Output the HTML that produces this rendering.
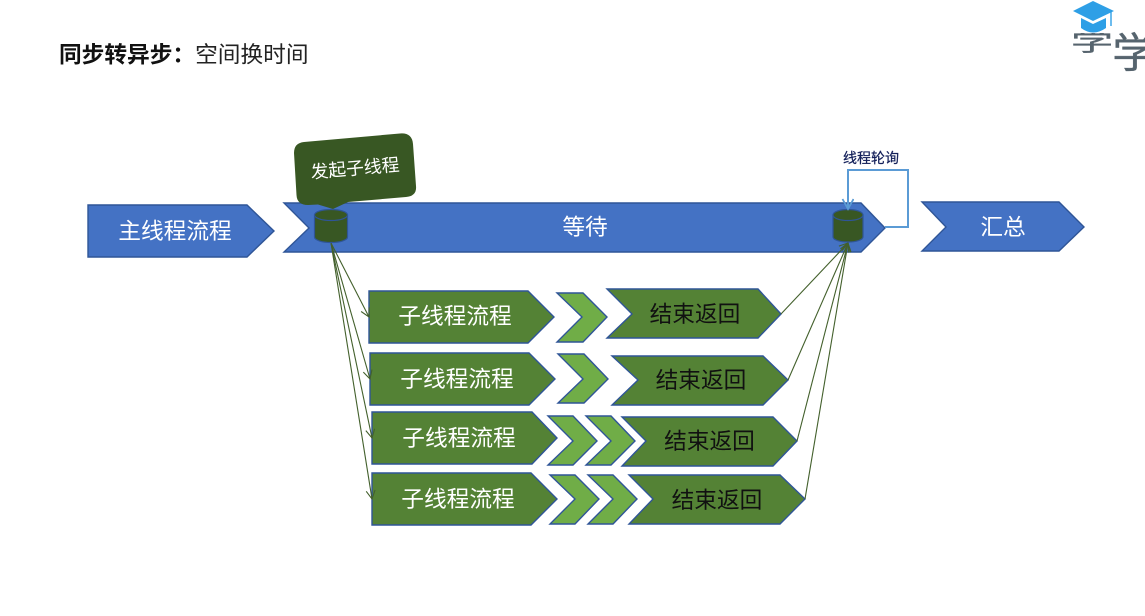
<!DOCTYPE html>
<html lang="zh-CN">
<head>
<meta charset="utf-8">
<title>同步转异步：空间换时间</title>
<style>
html,body{margin:0;padding:0;background:#fff;}
svg{display:block;}
text{font-family:"Liberation Sans","Noto Sans CJK SC",sans-serif;}
.box{stroke:#2f5597;stroke-width:1.4;stroke-linejoin:miter;}
.blue{fill:#4472c4;}
.green{fill:#548235;}
.light{fill:#70ad47;}
.wl{fill:#fff;font-size:22.7px;text-anchor:middle;dominant-baseline:central;}
.bk{fill:#111;font-size:22.7px;text-anchor:middle;dominant-baseline:central;}
.link{stroke:#43602c;stroke-width:1.1;fill:none;}
</style>
</head>
<body>
<svg width="1145" height="616" viewBox="0 0 1145 616" xmlns="http://www.w3.org/2000/svg">
<defs>
<marker id="openarrow" markerWidth="12" markerHeight="12" refX="9.500" refY="5" orient="auto" markerUnits="userSpaceOnUse"><path d="M1 0.500 L9.500 5 L1 9.500" fill="none" stroke="#43602c" stroke-width="1.1"/></marker>
<marker id="loophead" markerWidth="14" markerHeight="14" refX="11" refY="6" orient="auto" markerUnits="userSpaceOnUse"><path d="M1 0.500 L11 6 L1 11.500" fill="none" stroke="#5b9bd5" stroke-width="1.8"/></marker>
</defs>
<rect width="1145" height="616" fill="#fff"/>

<text x="59" y="54.500" font-size="22.700" dominant-baseline="central" fill="#111"><tspan font-weight="bold">同步转异步：</tspan><tspan fill="#222">空间换时间</tspan></text>

<g>
<text transform="translate(1071,50.600) scale(1,0.6)" font-size="42" fill="#56646e" stroke="#56646e" stroke-width="0.6">学</text>
<text transform="translate(1112,67.400) scale(1,0.9)" font-size="46" fill="#56646e" stroke="#56646e" stroke-width="0.4">学</text>
<rect x="1070" y="0" width="42" height="33" fill="#fff"/>
<path d="M1073 11 L1093 1 L1114 11 L1093 21 Z" fill="#2e9fe6"/>
<path d="M1081 18 L1093 24 L1106 18 V28 Q1093 37 1081 28 Z" fill="#2e9fe6"/>
<path d="M1111 12 V26" stroke="#2e9fe6" stroke-width="1.400"/>
</g>

<polygon class="box blue" points="88,205 247,205 274,231 247,257 88,257"/>
<text class="wl" x="175" y="231">主线程流程</text>

<polygon class="box blue" points="284,203 861,203 885,228 861,252 284,252 309,228"/>
<text class="wl" x="585" y="227">等待</text>

<polygon class="box blue" points="922,202 1059,202 1084,227 1059,251 922,251 946,227"/>
<text class="wl" x="1003" y="227">汇总</text>

<text x="871" y="158" font-size="14" fill="#14205a" stroke="#14205a" stroke-width="0.25" text-anchor="middle" dominant-baseline="central">线程轮询</text>

<g>
<polygon class="box green" points="369,291 528,291 554,317 528,343 369,343"/>
<text class="wl" x="455" y="316">子线程流程</text>
<polygon class="box light" points="557,293 583,293 607,317 583,342 557,342 582,317"/>
<polygon class="box green" points="607,289 758,289 781,314 758,338 607,338 632,314"/>
<text class="bk" x="695" y="314">结束返回</text>
</g>

<g>
<polygon class="box green" points="370,353 529,353 555,379 529,405 370,405"/>
<text class="wl" x="457" y="379">子线程流程</text>
<polygon class="box light" points="558,354 584,354 608,379 584,403 558,403 583,379"/>
<polygon class="box green" points="612,356 763,356 788,380 763,405 612,405 638,380"/>
<text class="bk" x="701" y="380">结束返回</text>
</g>

<g>
<polygon class="box green" points="372,412 532,412 557,438 532,464 372,464"/>
<text class="wl" x="459" y="438">子线程流程</text>
<polygon class="box light" points="548,416 573,416 597,441 573,465 548,465 573,441"/>
<polygon class="box light" points="586,416 611,416 635,441 611,465 586,465 611,441"/>
<polygon class="box green" points="622,417 773,417 797,441 773,466 622,466 646,441"/>
<text class="bk" x="709.500" y="441">结束返回</text>
</g>

<g>
<polygon class="box green" points="372,473 531,473 557,499 531,525 372,525"/>
<text class="wl" x="458" y="499">子线程流程</text>
<polygon class="box light" points="550,475 575,475 599,499 575,524 550,524 575,499"/>
<polygon class="box light" points="588,475 613,475 637,499 613,524 588,524 613,499"/>
<polygon class="box green" points="629,475 780,475 805,499 780,524 629,524 653,499"/>
<text class="bk" x="717" y="500">结束返回</text>
</g>

<g>
<line class="link" x1="331" y1="243" x2="369" y2="317" marker-end="url(#openarrow)"/>
<line class="link" x1="331" y1="243" x2="370" y2="379" marker-end="url(#openarrow)"/>
<line class="link" x1="331" y1="243" x2="372" y2="438" marker-end="url(#openarrow)"/>
<line class="link" x1="331" y1="243" x2="372" y2="499" marker-end="url(#openarrow)"/>
</g>

<g>
<line class="link" x1="781" y1="314" x2="848" y2="243" marker-end="url(#openarrow)"/>
<line class="link" x1="788" y1="380" x2="848" y2="243" marker-end="url(#openarrow)"/>
<line class="link" x1="797" y1="441" x2="848" y2="243" marker-end="url(#openarrow)"/>
<line class="link" x1="805" y1="499" x2="848" y2="243" marker-end="url(#openarrow)"/>
</g>

<g>
<path d="M314.500 215 V237 A16.500 5.500 0 0 0 347.500 237 V215 Z" fill="#385723" stroke="#2f5597" stroke-width="1.2"/>
<ellipse cx="331" cy="215" rx="16.500" ry="5.500" fill="#385723" stroke="#2f5597" stroke-width="1.2"/>
</g>

<g>
<path d="M833 215 V237 A15 5 0 0 0 863 237 V215 Z" fill="#385723" stroke="#2f5597" stroke-width="1.2"/>
<ellipse cx="848" cy="215" rx="15" ry="5.500" fill="#385723" stroke="#2f5597" stroke-width="1.2"/>
</g>

<path d="M885 227 H908 V170 H848 V209" fill="none" stroke="#5b9bd5" stroke-width="2" marker-end="url(#loophead)"/>

<path d="M304 142 L400 133.500 Q412 132.500 413 144 L416 186 Q417 196 406 197 L348 202 L333 209 L318 204.500 L308 205 Q297 205 296.500 195 L294 153 Q294 143 304 142 Z" fill="#385723"/>
<text x="355" y="168.500" font-size="17.800" fill="#fff" text-anchor="middle" dominant-baseline="central" transform="rotate(-5 355 168.500)">发起子线程</text>
</svg>
</body>
</html>
